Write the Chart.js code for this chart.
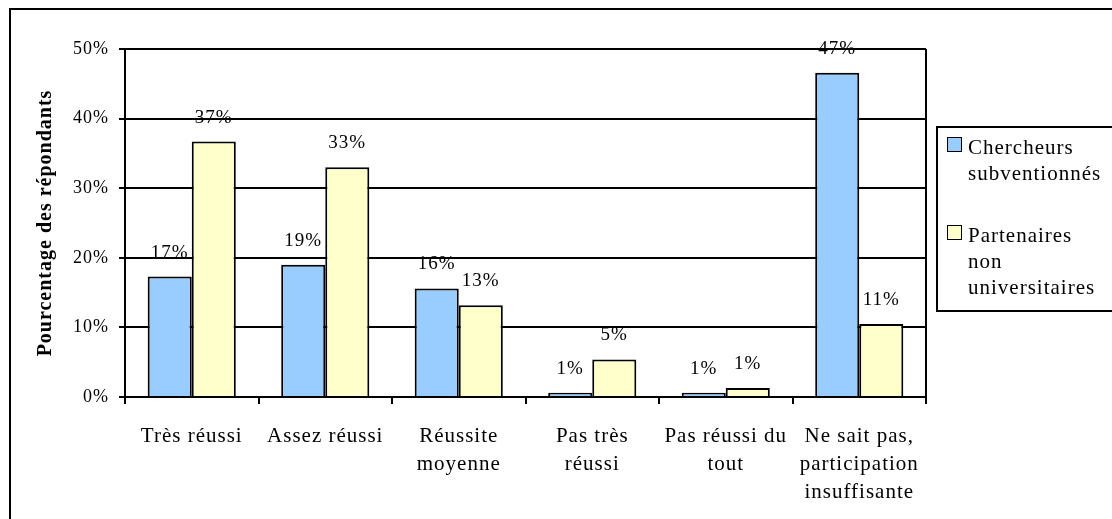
<!DOCTYPE html>
<html>
<head>
<meta charset="utf-8">
<script src="https://cdn.jsdelivr.net/npm/chart.js@4"></script>
<style>
  body { margin: 0; background: #fff; overflow: hidden; }
  #wrap { position: relative; width: 1112px; height: 519px; }
  #frame { position: absolute; left: 9px; top: 8px; width: 1200px; height: 600px;
           border-left: 2px solid #000; border-top: 2px solid #000; }
  #chart { position: absolute; left: 0; top: 0; }
  #legend { position: absolute; left: 936px; top: 126px; width: 200px; height: 182px;
            border: 2px solid #000; font-family: "Liberation Serif", serif; font-size: 21px;
            letter-spacing: 1px; line-height: 26px; color: #000; }
  .item { position: relative; padding-left: 30px; width: 160px; }
  .box { position: absolute; left: 9px; top: 3px; width: 13px; height: 13px; border: 1.5px solid #000; }
</style>
</head>
<body>
<div id="wrap">
  <div id="frame"></div>
  <canvas id="chart" width="1112" height="519"></canvas>
  <div id="legend"></div>
</div>
<script>
const categories = [
  ['Très réussi'],
  ['Assez réussi'],
  ['Réussite', 'moyenne'],
  ['Pas très', 'réussi'],
  ['Pas réussi du', 'tout'],
  ['Ne sait pas,', 'participation', 'insuffisante']
];
const seriesNames = ['Chercheurs subventionnés', 'Partenaires non universitaires'];
const chercheurs  = [17.3, 19.0, 15.6, 0.6, 0.6, 46.6];
const partenaires = [36.7, 33.0, 13.2, 5.4, 1.3, 10.5];
const chercheursLabels  = ['17%', '19%', '16%', '1%', '1%', '47%'];
const partenairesLabels = ['37%', '33%', '13%', '5%', '1%', '11%'];
const yTicks = [0, 10, 20, 30, 40, 50];

const colors = ['#99CCFF', '#FFFFCC'];
const serif = '"Liberation Serif", "Times New Roman", serif';

// texte un peu espacé comme dans l'original
const spacing = {
  id: 'spacing',
  beforeDraw(chart) { chart.ctx.letterSpacing = '1px'; }
};

// etiquettes au-dessus des barres + cadre droit de la zone de tracé
const barLabels = {
  id: 'barLabels',
  afterDatasetsDraw(chart) {
    const ctx = chart.ctx;
    const allLabels = [chercheursLabels, partenairesLabels];
    ctx.save();
    ctx.font = '19px ' + serif;
    ctx.fillStyle = '#000';
    ctx.textAlign = 'center';
    ctx.textBaseline = 'middle';
    chart.data.datasets.forEach((ds, i) => {
      chart.getDatasetMeta(i).data.forEach((bar, j) => {
        ctx.fillText(allLabels[i][j], bar.x, bar.y - 24);
      });
    });
    const a = chart.chartArea;
    ctx.strokeStyle = '#000';
    ctx.lineWidth = 2;
    ctx.beginPath();
    ctx.moveTo(a.right, a.top);
    ctx.lineTo(a.right, a.bottom);
    ctx.stroke();
    ctx.restore();
  }
};

new Chart(document.getElementById('chart'), {
  type: 'bar',
  data: {
    labels: categories,
    datasets: [
      { label: seriesNames[0], data: chercheurs, backgroundColor: colors[0], borderColor: '#000', borderWidth: 2 },
      { label: seriesNames[1], data: partenaires, backgroundColor: colors[1], borderColor: '#000', borderWidth: 2 }
    ]
  },
  options: {
    responsive: false,
    animation: false,
    layout: { padding: { top: 49, right: 186, left: 0, bottom: 0 } },
    datasets: { bar: { categoryPercentage: 0.66, barPercentage: 1.0 } },
    scales: {
      x: {
        grid: { display: true, drawOnChartArea: false, color: '#000', lineWidth: 2, tickLength: 7, offset: true },
        border: { display: true, color: '#000', width: 2 },
        ticks: { color: '#000', font: { family: serif, size: 21, lineHeight: 1.33 }, padding: 19, maxRotation: 0, autoSkip: false },
        afterFit: s => { s.height = 519 - 397; }
      },
      y: {
        min: 0, max: 50,
        afterBuildTicks: s => { s.ticks = yTicks.map(v => ({ value: v })); },
        grid: { color: '#000', lineWidth: 2, tickLength: 6 },
        border: { display: true, color: '#000', width: 2 },
        ticks: { color: '#000', font: { family: serif, size: 18 }, padding: 10, callback: v => v + '%' },
        title: { display: true, text: 'Pourcentage des répondants', color: '#000',
                 font: { family: serif, size: 20, weight: 'bold' }, padding: { top: 34, bottom: 0 } },
        afterFit: s => { s.width = 125; }
      }
    },
    plugins: {
      legend: { display: false },
      tooltip: { enabled: false }
    }
  },
  plugins: [spacing, barLabels]
});

// légende
const legend = document.getElementById('legend');
const legendLines = [['Chercheurs', 'subventionnés'], ['Partenaires', 'non', 'universitaires']];
legendLines.forEach((lines, i) => {
  const item = document.createElement('div');
  item.className = 'item';
  item.style.marginTop = i === 0 ? '6px' : '36px';
  item.innerHTML = '<span class="box" style="background:' + colors[i] + '"></span>' + lines.join('<br>');
  legend.appendChild(item);
});
</script>
</body>
</html>
